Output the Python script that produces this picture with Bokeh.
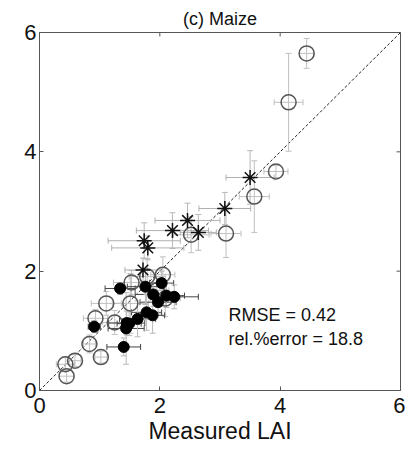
import numpy as np
from bokeh.plotting import figure
from bokeh.models import Range1d, Label, Title, FixedTicker
from bokeh.embed import file_html
from bokeh.resources import INLINE

# open circles
open_x = [0.45, 0.43, 0.59, 1.02, 0.83, 0.93, 1.25, 1.11, 1.51, 1.53, 1.79, 2.05, 2.09, 1.95, 2.52, 3.10, 3.57, 3.93, 4.14, 4.44]
open_y = [0.24, 0.44, 0.50, 0.56, 0.78, 1.21, 1.14, 1.46, 1.46, 1.81, 1.91, 1.94, 1.54, 1.68, 2.61, 2.63, 3.25, 3.67, 4.83, 5.65]
open_xerr = [0.12, 0.15, 0.10, 0.10, 0.10, 0.20, 0.20, 0.25, 0.30, 0.30, 0.30, 0.20, 0.25, 0.20, 0.30, 0.25, 0.25, 0.20, 0.24, 0.12]
open_yerr = [0.10, 0.12, 0.10, 0.10, 0.15, 0.15, 0.20, 0.20, 0.50, 0.20, 0.30, 0.30, 0.30, 0.20, 0.30, 0.40, 0.60, 0.10, 0.82, 0.25]

# filled circles
fill_x = [0.91, 1.34, 1.40, 1.44, 1.45, 1.49, 1.63, 1.76, 1.78, 1.88, 1.89, 1.97, 2.03, 2.11, 2.24]
fill_y = [1.07, 1.71, 0.73, 1.04, 1.13, 1.12, 1.20, 1.74, 1.31, 1.26, 1.61, 1.48, 1.80, 1.59, 1.57]
fill_xerr = [0.10, 0.25, 0.28, 0.30, 0.30, 0.20, 0.30, 0.30, 0.25, 0.20, 0.30, 0.30, 0.20, 0.30, 0.40]
fill_yerr = [0.10, 0.10, 0.15, 0.60, 0.20, 0.20, 0.30, 0.30, 0.30, 0.30, 0.20, 0.20, 0.20, 0.20, 0.20]

# asterisks
ast_x = [1.72, 1.74, 1.80, 2.21, 2.46, 2.64, 3.08, 3.50]
ast_y = [2.02, 2.51, 2.39, 2.68, 2.85, 2.65, 3.05, 3.57]
ast_xerr = [0.30, 0.60, 0.60, 0.60, 0.54, 0.30, 0.43, 0.40]
ast_yerr = [0.20, 0.30, 0.20, 0.30, 0.29, 0.30, 0.27, 0.45]

ticks = [0, 2, 4, 6]
one_to_one = [0, 6]
AX_MIN, AX_MAX = 0, 6

FONT = "Liberation Sans"

p = figure(frame_width=361, frame_height=358, output_backend="svg", toolbar_location=None,
           x_range=Range1d(AX_MIN, AX_MAX), y_range=Range1d(AX_MIN, AX_MAX),
           min_border_left=39, min_border_right=5, min_border_top=32, min_border_bottom=8,
           x_axis_label="Measured LAI")
p.title = Title(text="(c) Maize", align="center", text_font=FONT, text_font_size="18px",
                text_font_style="normal", text_color="#111111", standoff=7)
p.grid.visible = False
p.outline_line_color = "#555555"
p.outline_line_width = 1

for ax in [p.xaxis[0], p.yaxis[0]]:
    ax.ticker = FixedTicker(ticks=ticks)
    ax.major_tick_in = 4
    ax.major_tick_out = 0
    ax.minor_tick_line_color = None
    ax.axis_line_color = "#555555"
    ax.major_tick_line_color = "#555555"
    ax.major_label_text_font = FONT
    ax.major_label_text_font_size = "22px"
    ax.major_label_text_color = "#111111"
    ax.major_label_standoff = 3
p.xaxis.major_label_standoff = 7
p.xaxis.axis_label_text_font = FONT
p.xaxis.axis_label_text_font_size = "23px"
p.xaxis.axis_label_text_font_style = "normal"
p.xaxis.axis_label_text_color = "#111111"
p.xaxis.axis_label_standoff = 2

# inward ticks on the top and right edges (half of each dash is clipped by the frame)
p.scatter(ticks, [AX_MAX] * len(ticks), marker="dash", size=8, angle=np.pi / 2,
          line_color="#555555", line_width=1)
p.scatter([AX_MAX] * len(ticks), ticks, marker="dash", size=8,
          line_color="#555555", line_width=1)

# 1:1 line
p.line(one_to_one, one_to_one, line_color="#222222", line_width=1, line_dash="3 2")

def errbars(x, y, xe, ye, hcolor, vcolor):
    x = np.array(x); y = np.array(y); xe = np.array(xe); ye = np.array(ye)
    p.segment(x0=x - xe, y0=y, x1=x + xe, y1=y, line_color=hcolor, line_width=1)
    p.segment(x0=x, y0=y - ye, x1=x, y1=y + ye, line_color=vcolor, line_width=1)
    p.scatter(np.concatenate([x - xe, x + xe]), np.concatenate([y, y]), marker="dash",
              size=6, angle=np.pi / 2, line_color=hcolor, line_width=1)
    p.scatter(np.concatenate([x, x]), np.concatenate([y - ye, y + ye]), marker="dash",
              size=6, line_color=vcolor, line_width=1)

errbars(open_x, open_y, open_xerr, open_yerr, "#c0c0c0", "#c0c0c0")
errbars(ast_x, ast_y, ast_xerr, ast_yerr, "#b0b0b0", "#b8b8b8")
errbars(fill_x, fill_y, fill_xerr, fill_yerr, "#444444", "#b8b8b8")

p.scatter(open_x, open_y, marker="circle", size=15, fill_color=None,
          line_color="#555555", line_width=1.5)
p.scatter(fill_x, fill_y, marker="circle", size=11, fill_color="black", line_color="black")
p.scatter(ast_x, ast_y, marker="asterisk", size=15, line_color="#111111", line_width=1.5)

p.add_layout(Label(x=3.14, y=1.26, text="RMSE = 0.42", text_font=FONT,
                   text_font_size="18px", text_color="#111111", text_baseline="alphabetic"))
p.add_layout(Label(x=3.14, y=0.87, text="rel.%error = 18.8", text_font=FONT,
                   text_font_size="18px", text_color="#111111", text_baseline="alphabetic"))

open("out.html", "w").write(file_html(p, INLINE))
